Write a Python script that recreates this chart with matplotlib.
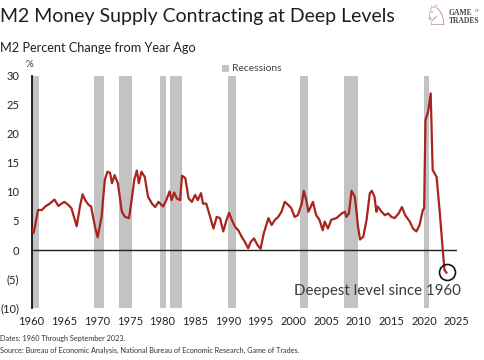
import matplotlib
matplotlib.use("Agg")
import matplotlib.pyplot as plt

plt.rcParams['font.family'] = ['Lato', 'DejaVu Sans']

# ---- data ----
years = [1960.0, 1960.3, 1960.6, 1961.0, 1961.6, 1962.1, 1962.8, 1963.5, 1964.1, 1965.0,
         1965.6, 1966.1, 1966.9, 1967.4, 1967.8, 1968.2, 1968.7, 1969.1, 1969.7, 1970.1,
         1970.7, 1971.2, 1971.6, 1972.0, 1972.3, 1972.7, 1973.2, 1973.8, 1974.3, 1974.9,
         1975.3, 1975.7, 1976.1, 1976.4, 1976.8, 1977.3, 1977.8, 1978.4, 1978.9, 1979.4,
         1980.1, 1980.6, 1981.1, 1981.4, 1981.8, 1982.2, 1982.7, 1983.0, 1983.5, 1984.0,
         1984.5, 1985.0, 1985.4, 1985.9, 1986.2, 1986.7, 1987.3, 1987.8, 1988.3, 1988.8,
         1989.3, 1989.8, 1990.2, 1990.6, 1991.1, 1991.6, 1992.1, 1992.6, 1993.1, 1993.5,
         1994.0, 1994.5, 1995.0, 1995.5, 1996.2, 1996.7, 1997.2, 1997.7, 1998.2, 1998.7,
         1999.2, 1999.7, 2000.2, 2000.7, 2001.3, 2001.6, 2002.0, 2002.3, 2002.7, 2003.0,
         2003.5, 2004.0, 2004.5, 2004.8, 2005.3, 2005.8, 2006.6, 2007.4, 2007.9, 2008.1,
         2008.5, 2008.9, 2009.4, 2009.6, 2009.9, 2010.2, 2010.7, 2011.2, 2011.7, 2012.0,
         2012.4, 2012.7, 2012.9, 2013.5, 2014.0, 2014.5, 2015.0, 2015.5, 2016.1, 2016.6,
         2017.1, 2017.8, 2018.3, 2018.8, 2019.3, 2019.8, 2020.0, 2020.2, 2020.6, 2021.0,
         2021.3, 2021.9, 2022.4, 2022.8, 2023.1, 2023.4]
m2_yoy = [3.7, 2.9, 4.5, 6.9, 6.9, 7.5, 8.0, 8.7, 7.6, 8.3,
          7.8, 7.2, 4.1, 7.5, 9.6, 8.6, 7.8, 7.5, 4.0, 2.2,
          5.7, 12.1, 13.5, 13.3, 11.5, 12.9, 11.5, 6.6, 5.7, 5.5,
          8.6, 12.1, 13.7, 11.5, 13.5, 12.6, 9.2, 8.0, 7.4, 8.3,
          7.5, 8.6, 10.1, 8.6, 9.9, 8.9, 8.6, 12.8, 12.4, 8.9,
          8.3, 9.5, 8.6, 9.8, 8.0, 8.0, 5.7, 3.7, 5.7, 5.5,
          3.2, 5.2, 6.4, 5.2, 4.0, 3.4, 2.3, 1.4, 0.3, 1.4,
          2.0, 0.9, 0.2, 2.9, 5.5, 4.3, 5.2, 5.7, 6.6, 8.3,
          7.8, 7.2, 5.7, 6.0, 8.0, 10.2, 8.6, 6.6, 7.5, 8.3,
          6.0, 5.2, 3.4, 4.9, 3.7, 5.2, 5.5, 6.3, 6.6, 5.7,
          6.3, 10.2, 9.2, 7.2, 4.0, 1.8, 2.3, 5.2, 9.8, 10.2,
          9.2, 6.6, 7.5, 6.6, 6.0, 6.3, 5.7, 5.5, 6.3, 7.4,
          6.0, 4.9, 3.7, 3.2, 4.3, 6.9, 7.2, 22.4, 23.8, 27.0,
          13.8, 12.6, 6.3, 0.6, -3.4, -3.9]

rec_start = [1960.0, 1969.6, 1973.4, 1979.6, 1981.1, 1990.0, 2001.0, 2007.8, 2020.0]
rec_end   = [1961.2, 1971.0, 1975.3, 1980.6, 1983.0, 1991.3, 2002.2, 2009.9, 2020.7]

y_ticks = [30, 25, 20, 15, 10, 5, 0, -5, -10]
y_tick_labels = ["30", "25", "20", "15", "10", "5", "0", "(5)", "(10)"]
x_ticks = [1960, 1965, 1970, 1975, 1980, 1985, 1990, 1995, 2000, 2005, 2010, 2015, 2020, 2025]

fig = plt.figure(figsize=(4.85, 3.6), dpi=100)
ax = fig.add_axes([0.065, 0.1444, 0.877, 0.6446])

for s, e in zip(rec_start, rec_end):
    ax.axvspan(s, e, color="#c3c3c3", lw=0, zorder=1)

ax.axhline(0, color="#222222", lw=1.0, zorder=2)
ax.plot(years, m2_yoy, color="#a8241c", lw=1.6, zorder=3, solid_joinstyle="round")

# annotation
ax.plot([2023.5], [-3.85], marker="o", ms=11.5, mfc="none", mec="#111111", mew=1.2, zorder=4)
ax.text(2012.8, -7.0, "Deepest level since 1960", ha="center", va="center",
        fontsize=10.8, color="#3a3a3a")

ax.set_xlim(1960, 2025)
ax.set_ylim(-10, 30)
for sp in ["top", "right", "bottom"]:
    ax.spines[sp].set_visible(False)
ax.spines["left"].set_color("#111111")
ax.spines["left"].set_linewidth(1.3)
ax.set_yticks(y_ticks)
ax.set_yticklabels(y_tick_labels)
ax.set_xticks(x_ticks)
ax.tick_params(axis="both", length=0, labelsize=8, colors="#222222")
ax.tick_params(axis="y", pad=9)
ax.tick_params(axis="x", pad=6)

# texts
fig.text(0.0, 0.955, "M2 Money Supply Contracting at Deep Levels", fontsize=14,
         color="#1e1e1e", ha="left", va="center")
fig.text(0.0, 0.867, "M2 Percent Change from Year Ago", fontsize=9.2,
         color="#222222", ha="left", va="center")
fig.text(0.060, 0.82, "%", fontsize=7, color="#333333", ha="center", va="center")

# legend
fig.patches.append(matplotlib.patches.Rectangle((222/485, 1-72/360), 7/485, 7/360,
                   transform=fig.transFigure, color="#c3c3c3", lw=0))
fig.text(232/485, 1-68.5/360, "Recessions", fontsize=7.5, color="#444444",
         ha="left", va="center")

# footer
fig.text(0.0, 1-339/360, "Dates: 1960 Through September 2023.", fontsize=5.2,
         color="#333333", ha="left", va="center")
fig.text(0.0, 1-350/360,
         "Source: Bureau of Economic Analysis, National Bureau of Economic Research, Game of Trades.",
         fontsize=5.2, color="#333333", ha="left", va="center")

# logo
fig.text(436/485, 1-17/360, "\u2658", fontsize=20, color="#b98080", ha="center", va="center",
         family=["DejaVu Sans"])
fig.text(449/485, 1-13/360, "GAME", fontsize=5.5, color="#444444", ha="left", va="center",
         family=["Liberation Serif"], weight="bold")
fig.text(474.5/485, 1-11.5/360, "OF", fontsize=2.6, color="#444444", ha="left", va="center",
         family=["Liberation Serif"])
fig.text(449/485, 1-21/360, "TRADES", fontsize=5.5, color="#444444", ha="left", va="center",
         family=["Liberation Serif"], weight="bold")

fig.savefig("out.png", dpi=100)
